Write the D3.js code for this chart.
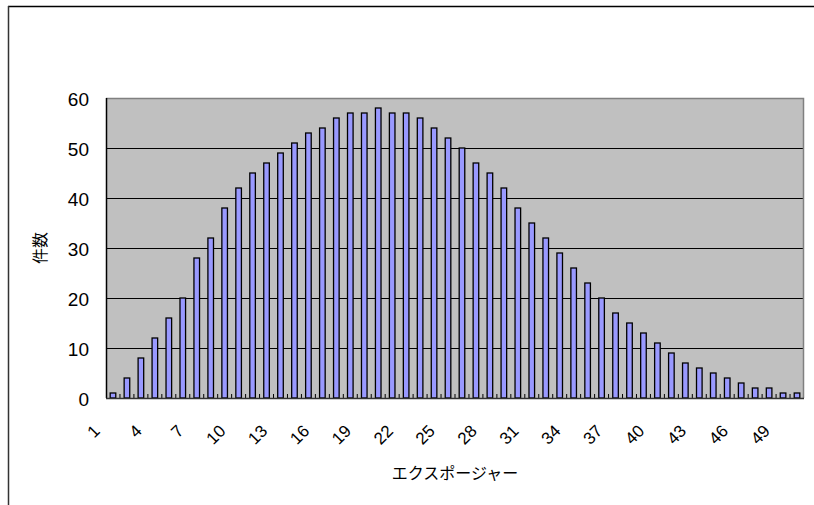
<!DOCTYPE html>
<html>
<head>
<meta charset="utf-8">
<script src="https://cdn.jsdelivr.net/npm/d3@7"></script>
<style>
  html, body { margin: 0; padding: 0; background: #fff; }
  svg { display: block; }
  .ylab { font-family: "Liberation Sans", Arial, sans-serif; font-size: 19px; fill: #000; }
  .xlab { font-family: "Liberation Sans", Arial, sans-serif; font-size: 17px; fill: #000; }
  .title { font-family: "Noto Sans CJK JP", sans-serif; font-size: 16px; fill: #000; }
</style>
</head>
<body>
<svg id="chart" width="814" height="505"></svg>
<script>
// Exposure values 1..50 and the number of cases for each
const categories = d3.range(1, 51);
const counts = [
  1, 4, 8, 12, 16, 20, 28, 32, 38, 42,
  45, 47, 49, 51, 53, 54, 56, 57, 57, 58,
  57, 57, 56, 54, 52, 50, 47, 45, 42, 38,
  35, 32, 29, 26, 23, 20, 17, 15, 13, 11,
  9, 7, 6, 5, 4, 3, 2, 2, 1, 1
];
const yTicks = [0, 10, 20, 30, 40, 50, 60];
const xTickLabels = categories.filter(c => (c - 1) % 3 === 0);
const xTitle = "エクスポージャー";
const yTitle = "件数";

const svg = d3.select("#chart");
const plot = { left: 106, right: 804, top: 98, bottom: 398 };

// Outer frame (top and left edges)
svg.append("line").attr("x1", 8).attr("x2", 814).attr("y1", 6.5).attr("y2", 6.5)
  .attr("stroke", "#000").attr("stroke-width", 1.5);
svg.append("line").attr("x1", 8.5).attr("x2", 8.5).attr("y1", 6).attr("y2", 505)
  .attr("stroke", "#333").attr("stroke-width", 1.5);

const x = d3.scaleBand()
  .domain(categories)
  .range([plot.left, plot.right])
  .paddingInner(0.6)
  .paddingOuter(0.3);
const step = x.step();
const center = c => x(c) + x.bandwidth() / 2;

const y = d3.scaleLinear().domain([0, 60]).range([plot.bottom, plot.top]);

// Plot background
svg.append("rect")
  .attr("x", plot.left).attr("y", plot.top)
  .attr("width", plot.right - plot.left).attr("height", plot.bottom - plot.top)
  .attr("fill", "#c0c0c0");

// Horizontal gridlines
svg.append("g").selectAll("line")
  .data(yTicks.filter(t => t > 0 && t < 60))
  .join("line")
  .attr("x1", plot.left).attr("x2", plot.right)
  .attr("y1", d => Math.round(y(d)) + 0.5).attr("y2", d => Math.round(y(d)) + 0.5)
  .attr("stroke", "#000").attr("stroke-width", 1);

// Plot border: top and right in grey
svg.append("path")
  .attr("d", `M${plot.left},${plot.top + 0.5}H${plot.right - 0.5}V${plot.bottom}`)
  .attr("fill", "none").attr("stroke", "#808080").attr("stroke-width", 1.5);

// Bars
svg.append("g").selectAll("rect")
  .data(categories.map((c, i) => ({ c, v: counts[i] })))
  .join("rect")
  .attr("x", d => x(d.c))
  .attr("y", d => y(d.v))
  .attr("width", x.bandwidth())
  .attr("height", d => y(0) - y(d.v))
  .attr("fill", "#9999ff")
  .attr("stroke", "#000")
  .attr("stroke-width", 1.3);

// Category boundary tick marks (pointing up into the plot)
svg.append("g").selectAll("line")
  .data(categories.slice(0, -1))
  .join("line")
  .attr("x1", d => center(d) + step / 2)
  .attr("x2", d => center(d) + step / 2)
  .attr("y1", plot.bottom).attr("y2", plot.bottom - 4)
  .attr("stroke", "#000").attr("stroke-width", 1);

// Axis lines
svg.append("line").attr("x1", plot.left + 0.5).attr("x2", plot.left + 0.5)
  .attr("y1", plot.top).attr("y2", plot.bottom)
  .attr("stroke", "#000").attr("stroke-width", 1.5);
svg.append("line").attr("x1", plot.left).attr("x2", plot.right)
  .attr("y1", plot.bottom + 0.5).attr("y2", plot.bottom + 0.5)
  .attr("stroke", "#333").attr("stroke-width", 1.5);

// Y axis labels
const yAxis = svg.append("g")
  .attr("transform", `translate(${plot.left},0)`)
  .call(d3.axisLeft(y).tickValues(yTicks).tickSize(0).tickPadding(17));
yAxis.select(".domain").remove();
yAxis.selectAll("text")
  .attr("class", "ylab")
  .attr("dy", "0.42em");
yAxis.attr("font-family", null).attr("font-size", null);

// X axis labels set along 45-degree baselines ending just left of each category
const defs = svg.append("defs");
const labelEnd = d => [center(d) - 12, plot.bottom + 34];
defs.selectAll("path")
  .data(xTickLabels)
  .join("path")
  .attr("id", d => `xlab-path-${d}`)
  .attr("d", d => {
    const [ax, ay] = labelEnd(d);
    return `M${ax - 40},${ay + 40}L${ax},${ay}`;
  });
svg.append("g").selectAll("text")
  .data(xTickLabels)
  .join("text")
  .attr("class", "xlab")
  .attr("text-anchor", "end")
  .append("textPath")
  .attr("href", d => `#xlab-path-${d}`)
  .attr("startOffset", "100%")
  .text(d => d);

// Axis titles
svg.append("text").attr("class", "title")
  .attr("x", (plot.left + plot.right) / 2).attr("y", 479)
  .attr("text-anchor", "middle")
  .text(xTitle);
svg.append("text").attr("class", "title")
  .attr("transform", `translate(46,${(plot.top + plot.bottom) / 2}) rotate(-90)`)
  .attr("text-anchor", "middle")
  .text(yTitle);
</script>
</body>
</html>
